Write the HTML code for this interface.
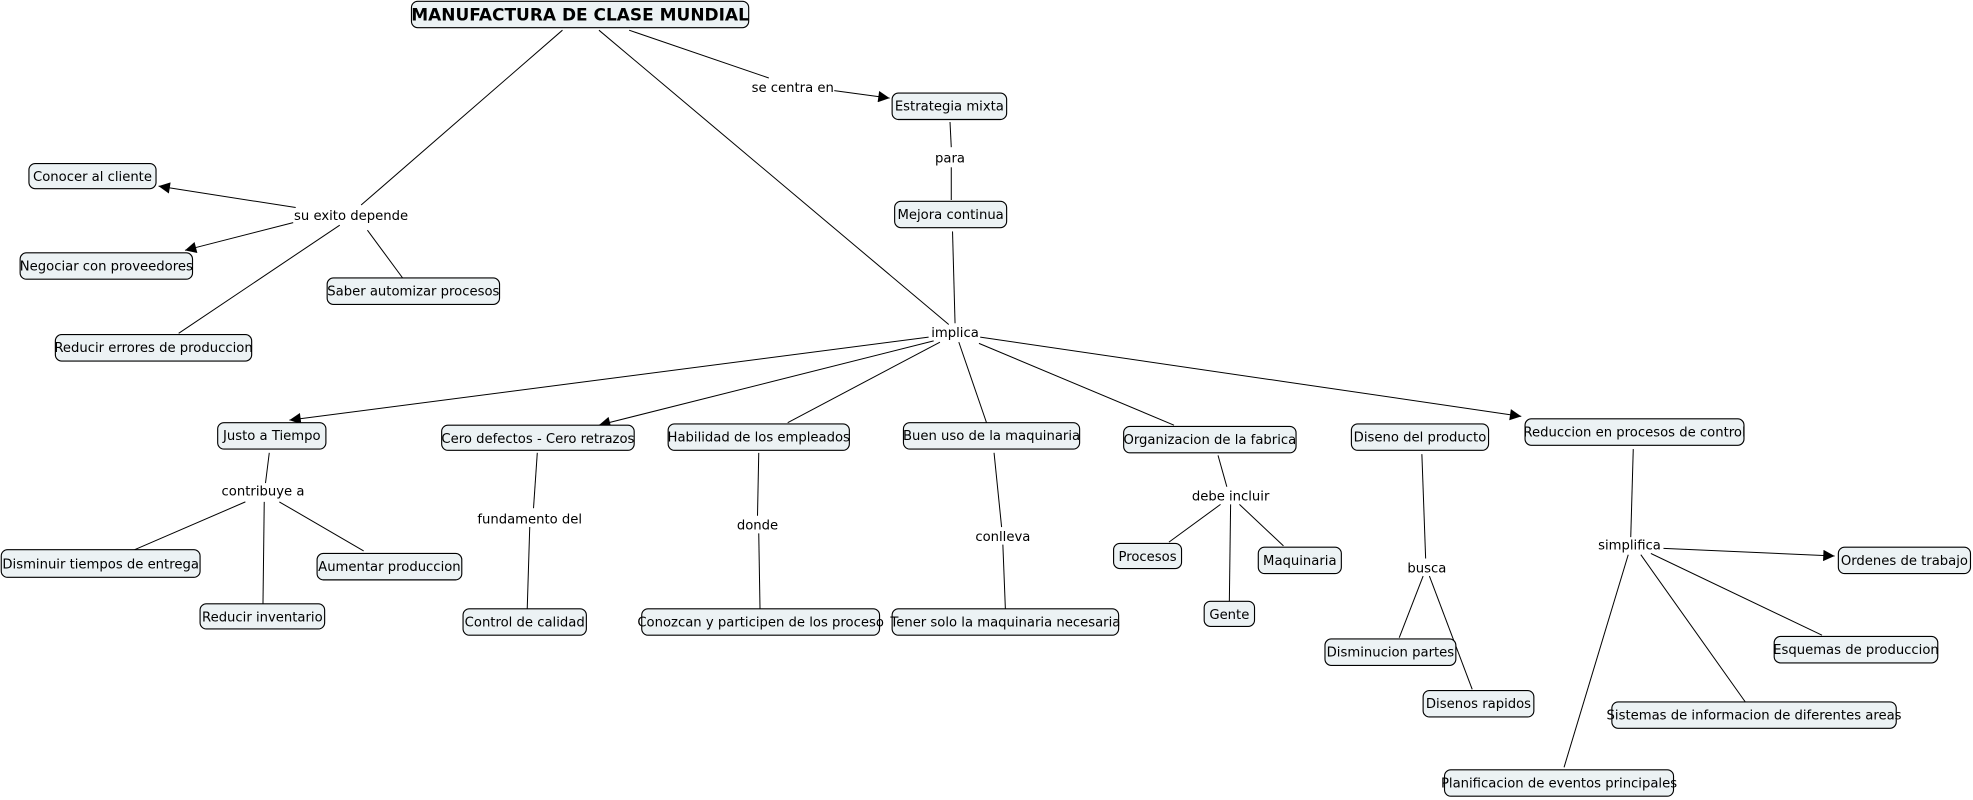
<!DOCTYPE html>
<html><head><meta charset="utf-8"><style>
html,body{margin:0;padding:0;background:#fff;width:1973px;height:800px;overflow:hidden}
svg{display:block}
text{font-family:"DejaVu Sans","Liberation Sans",sans-serif;font-size:10.5px;fill:#000}
rect{fill:#ecf2f4;stroke:#000;stroke-width:0.9}
line{stroke:#000;stroke-width:0.8}
</style></head><body>
<svg width="1973" height="800" viewBox="0 0 1568 636" preserveAspectRatio="none" xmlns="http://www.w3.org/2000/svg">
<defs><marker id="a" viewBox="0 0 10 10" refX="10" refY="5" markerWidth="10" markerHeight="9" markerUnits="userSpaceOnUse" orient="auto"><path d="M0,0 L10,5 L0,10 z" fill="#000"/></marker></defs>
<g>
<line x1="447" y1="24" x2="287" y2="163"/>
<line x1="476" y1="24" x2="754" y2="258"/>
<line x1="500" y1="24" x2="611" y2="62"/>
<line x1="663" y1="72" x2="707" y2="78" marker-end="url(#a)"/>
<line x1="755" y1="97" x2="756" y2="117"/>
<line x1="756" y1="133" x2="756" y2="159"/>
<line x1="757" y1="184" x2="759" y2="257"/>
<line x1="235" y1="165" x2="126" y2="148" marker-end="url(#a)"/>
<line x1="233" y1="177" x2="147" y2="199" marker-end="url(#a)"/>
<line x1="270" y1="179" x2="142" y2="265"/>
<line x1="292" y1="183" x2="320" y2="221"/>
<line x1="738" y1="268" x2="230" y2="334" marker-end="url(#a)"/>
<line x1="742" y1="271" x2="476" y2="338" marker-end="url(#a)"/>
<line x1="747" y1="272" x2="626" y2="336"/>
<line x1="762" y1="272" x2="784" y2="336"/>
<line x1="778" y1="273" x2="933" y2="338"/>
<line x1="779" y1="268" x2="1209" y2="331" marker-end="url(#a)"/>
<line x1="214" y1="360" x2="211" y2="384"/>
<line x1="195" y1="399" x2="107" y2="437"/>
<line x1="210" y1="399" x2="209" y2="480"/>
<line x1="222" y1="399" x2="289" y2="438"/>
<line x1="427" y1="360" x2="424" y2="404"/>
<line x1="421" y1="419" x2="419" y2="484"/>
<line x1="603" y1="360" x2="602" y2="410"/>
<line x1="603" y1="424" x2="604" y2="484"/>
<line x1="790" y1="360" x2="796" y2="419"/>
<line x1="797" y1="433" x2="799" y2="484"/>
<line x1="968" y1="362" x2="975" y2="387"/>
<line x1="970" y1="401" x2="929" y2="431"/>
<line x1="978" y1="401" x2="977" y2="478"/>
<line x1="985" y1="401" x2="1020" y2="434"/>
<line x1="1130" y1="361" x2="1133" y2="444"/>
<line x1="1131" y1="458" x2="1112" y2="507"/>
<line x1="1136" y1="458" x2="1170" y2="548"/>
<line x1="1298" y1="357" x2="1296" y2="427"/>
<line x1="1322" y1="436" x2="1458" y2="442" marker-end="url(#a)"/>
<line x1="1294" y1="441" x2="1243" y2="610"/>
<line x1="1304" y1="441" x2="1387" y2="558"/>
<line x1="1312" y1="440" x2="1448" y2="505"/>
</g>
<g>
<rect x="327" y="1" width="268" height="21" rx="5"/>
<text x="461" y="16.5" text-anchor="middle" style="font-weight:bold;font-size:13.5px">MANUFACTURA DE CLASE MUNDIAL</text>
</g>
<g text-anchor="middle">
<rect x="709" y="74" width="91" height="21" rx="5"/><text x="754.5" y="88">Estrategia mixta</text>
<rect x="711" y="160" width="89" height="21" rx="5"/><text x="755.5" y="174">Mejora continua</text>
<rect x="23" y="130" width="101" height="20" rx="5"/><text x="73.5" y="144">Conocer al cliente</text>
<rect x="16" y="201" width="137" height="21" rx="5"/><text x="84.5" y="215">Negociar con proveedores</text>
<rect x="260" y="221" width="137" height="21" rx="5"/><text x="328.5" y="235">Saber automizar procesos</text>
<rect x="44" y="266" width="156" height="21" rx="5"/><text x="122" y="280">Reducir errores de produccion</text>
<rect x="173" y="336" width="86" height="21" rx="5"/><text x="216" y="350">Justo a Tiempo</text>
<rect x="351" y="338" width="153" height="20" rx="5"/><text x="427.5" y="352">Cero defectos - Cero retrazos</text>
<rect x="531" y="337" width="144" height="21" rx="5"/><text x="603" y="351">Habilidad de los empleados</text>
<rect x="718" y="336" width="140" height="21" rx="5"/><text x="788" y="350">Buen uso de la maquinaria</text>
<rect x="893" y="339" width="137" height="21" rx="5"/><text x="961.5" y="353">Organizacion de la fabrica</text>
<rect x="1074" y="337" width="109" height="21" rx="5"/><text x="1128.5" y="351">Diseno del producto</text>
<rect x="1212" y="333" width="174" height="21" rx="5"/><text x="1299" y="347">Reduccion en procesos de control</text>
<rect x="1" y="437" width="158" height="22" rx="5"/><text x="80" y="452">Disminuir tiempos de entrega</text>
<rect x="252" y="440" width="115" height="21" rx="5"/><text x="309.5" y="454">Aumentar produccion</text>
<rect x="159" y="480" width="99" height="20" rx="5"/><text x="208.5" y="494">Reducir inventario</text>
<rect x="368" y="484" width="98" height="21" rx="5"/><text x="417" y="498">Control de calidad</text>
<rect x="510" y="484" width="189" height="21" rx="5"/><text x="604.5" y="498">Conozcan y participen de los proceso</text>
<rect x="709" y="484" width="180" height="21" rx="5"/><text x="799" y="498">Tener solo la maquinaria necesaria</text>
<rect x="885" y="432" width="54" height="20" rx="5"/><text x="912" y="446">Procesos</text>
<rect x="1000" y="435" width="66" height="21" rx="5"/><text x="1033" y="449">Maquinaria</text>
<rect x="957" y="478" width="40" height="20" rx="5"/><text x="977" y="492">Gente</text>
<rect x="1053" y="508" width="104" height="21" rx="5"/><text x="1105" y="522">Disminucion partes</text>
<rect x="1131" y="549" width="88" height="21" rx="5"/><text x="1175" y="563">Disenos rapidos</text>
<rect x="1461" y="435" width="105" height="21" rx="5"/><text x="1513.5" y="449">Ordenes de trabajo</text>
<rect x="1410" y="506" width="130" height="21" rx="5"/><text x="1475" y="520">Esquemas de produccion</text>
<rect x="1281" y="558" width="226" height="21" rx="5"/><text x="1394" y="572">Sistemas de informacion de diferentes areas</text>
<rect x="1148" y="612" width="182" height="21" rx="5"/><text x="1239" y="626">Planificacion de eventos principales</text>
<text x="630" y="73">se centra en</text>
<text x="755" y="129">para</text>
<text x="279" y="175">su exito depende</text>
<text x="759" y="268">implica</text>
<text x="209" y="394">contribuye a</text>
<text x="421" y="416">fundamento del</text>
<text x="602" y="421">donde</text>
<text x="797" y="430">conlleva</text>
<text x="978" y="398">debe incluir</text>
<text x="1134" y="455">busca</text>
<text x="1295" y="437">simplifica</text>
</g>
</svg>
</body></html>
